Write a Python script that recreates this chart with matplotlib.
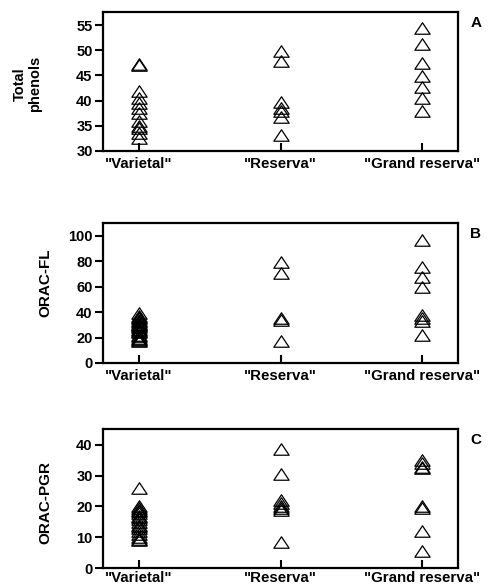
import matplotlib
matplotlib.use("Agg")
import matplotlib.pyplot as plt
from matplotlib.path import Path

plt.rcParams['font.family'] = ['Liberation Sans', 'DejaVu Sans']

categories = ['"Varietal"', '"Reserva"', '"Grand reserva"']

# Panel A: Total phenols
tp_varietal = [47.0, 47.3, 42.0, 40.5, 39.5, 38.5, 37.5, 36.0, 35.0, 34.5, 33.5, 32.5]
tp_reserva = [49.8, 47.8, 39.8, 38.5, 38.0, 36.8, 33.2]
tp_grand = [54.5, 51.2, 47.5, 44.8, 42.7, 40.6, 37.9]

# Panel B: ORAC-FL
fl_varietal = [39, 37, 36, 35, 34, 33, 32, 31, 30.5, 30, 29, 28, 27, 26, 25, 24, 22, 21, 20, 19, 18, 17]
fl_reserva = [79, 71, 35, 34, 17]
fl_grand = [97, 75.5, 67.5, 59.5, 38, 35.5, 33, 22]

# Panel C: ORAC-PGR
pgr_varietal = [26, 20, 19.5, 19, 18.5, 18, 17, 16.5, 16, 15, 14, 13.5, 13, 12, 11, 10, 9.5, 9]
pgr_reserva = [38.7, 30.5, 22, 21, 20, 19.5, 19, 8.5]
pgr_grand = [35, 34, 33, 32.5, 20, 19.5, 12, 5.5]

panels = [
    dict(label='Total\nphenols', letter='A', data=[tp_varietal, tp_reserva, tp_grand],
         ylim=(30, 57.6), yticks=[30, 35, 40, 45, 50, 55], ylx=-0.172, yly=0.48, lfs=10.5),
    dict(label='ORAC-FL', letter='B', data=[fl_varietal, fl_reserva, fl_grand],
         ylim=(0, 110), yticks=[0, 20, 40, 60, 80, 100], ylx=-0.142, yly=0.57, lfs=11),
    dict(label='ORAC-PGR', letter='C', data=[pgr_varietal, pgr_reserva, pgr_grand],
         ylim=(0, 45.2), yticks=[0, 10, 20, 30, 40], ylx=-0.142, yly=0.47, lfs=11),
]

W, H = 489, 585
fig = plt.figure(figsize=(W / 100, H / 100), dpi=100)

boxes = [(12, 151), (223, 363), (429, 568)]
left, right = 103, 458
tri = Path([(-1, -0.75), (1, -0.75), (0, 0.75), (-1, -0.75)],
           [Path.MOVETO, Path.LINETO, Path.LINETO, Path.CLOSEPOLY])

for k, (p, (top, bot)) in enumerate(zip(panels, boxes)):
    ax = fig.add_axes([left / W, 1 - bot / H, (right - left) / W, (bot - top) / H])
    for i, vals in enumerate(p['data']):
        ax.plot([i + 1] * len(vals), vals, linestyle='none', marker=tri,
                markersize=11, markerfacecolor='none', markeredgecolor='black',
                markeredgewidth=0.9)
    ax.set_xlim(0.745, 3.255)
    ax.set_ylim(*p['ylim'])
    ax.set_yticks(p['yticks'])
    ax.set_xticks([1, 2, 3])
    ax.set_xticklabels(categories, fontsize=10.8, fontweight='bold')
    for lab in ax.get_yticklabels():
        lab.set_fontweight('bold')
    ax.tick_params(axis='y', direction='out', length=6, width=1.5, labelsize=10.5, pad=1.5)
    ax.tick_params(axis='x', direction='in', length=6, width=1.5, pad=2 if k == 2 else 4)
    for s in ax.spines.values():
        s.set_linewidth(1.6)
    ax.set_ylabel(p['label'], fontsize=p['lfs'], fontweight='bold', linespacing=1.1)
    ax.yaxis.set_label_coords(p['ylx'], p['yly'])
    ax.text(1.035, 0.92, p['letter'], transform=ax.transAxes, fontsize=11,
            fontweight='bold', ha='left', va='center')

fig.savefig('out.png', dpi=100)
